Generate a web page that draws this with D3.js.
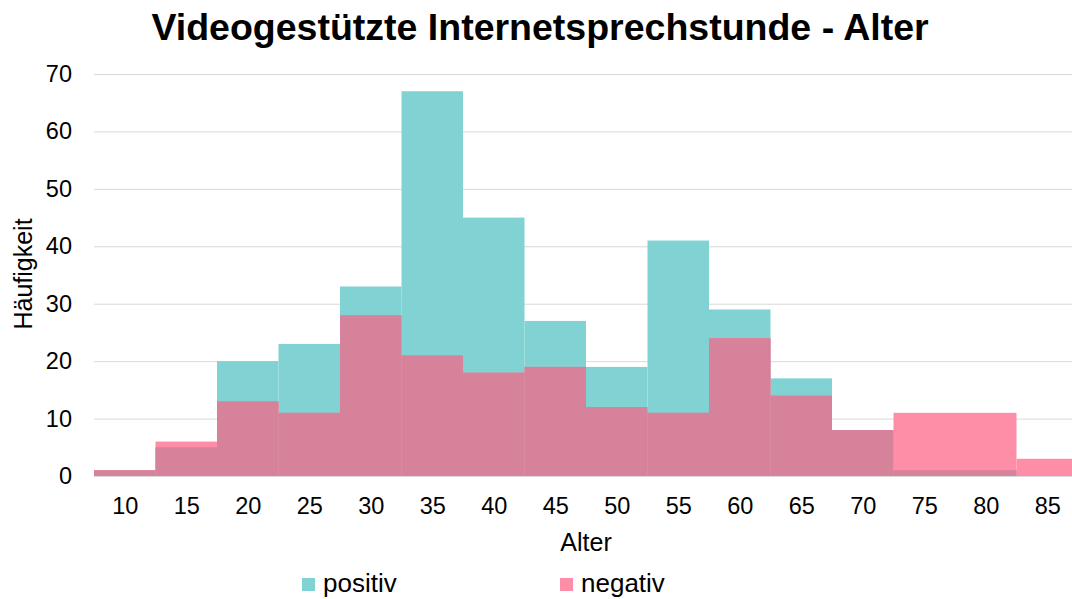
<!DOCTYPE html>
<html>
<head>
<meta charset="utf-8">
<script src="https://cdn.jsdelivr.net/npm/d3@7"></script>
<style>
  body { margin: 0; background: #fff; }
  svg { font-family: "Liberation Sans", Arial, sans-serif; }
</style>
</head>
<body>
<div id="chart"></div>
<script>
// bin centres (Alter), each bin 5 years wide
var ages = [10, 15, 20, 25, 30, 35, 40, 45, 50, 55, 60, 65, 70, 75, 80, 85];
var positiv = [1, 5, 20, 23, 33, 67, 45, 27, 19, 41, 29, 17, 8, 1, 1, 0];
var negativ = [1, 6, 13, 11, 28, 21, 18, 19, 12, 11, 24, 14, 8, 11, 11, 3];
var yTicks = [0, 10, 20, 30, 40, 50, 60, 70];
var binWidth = 5;

var svgWidth = 1072;
var svgHeight = 599;

var margin = { top: 74, right: -6, bottom: 123, left: 94 };
var chart_width = svgWidth - margin.left - margin.right;
var chart_height = svgHeight - margin.top - margin.bottom;

var svg = d3.select("#chart")
    .append("svg")
    .attr("width", svgWidth)
    .attr("height", svgHeight);

// title
svg.append("text")
    .attr("x", 540)
    .attr("y", 40)
    .attr("text-anchor", "middle")
    .attr("font-size", 37.5)
    .attr("font-weight", "bold")
    .text("Videogestützte Internetsprechstunde - Alter");

var chartGroup = svg.append("g")
    .attr("transform", `translate(${margin.left}, ${margin.top})`);

var xScale = d3.scaleLinear()
    .domain([ages[0] - binWidth / 2, ages[ages.length - 1] + binWidth / 2])
    .range([0, chart_width]);

var yScale = d3.scaleLinear()
    .domain([0, 70])
    .range([chart_height, 0]);

// gridlines + y labels
var leftAxis = d3.axisLeft(yScale)
    .tickValues(yTicks)
    .tickSize(-chart_width)
    .tickPadding(22);

var yAxisG = chartGroup.append("g").call(leftAxis);
yAxisG.select(".domain").remove();
yAxisG.selectAll("line").attr("stroke", "#d9d9d9").attr("stroke-width", 1);
yAxisG.selectAll("text").attr("font-size", 23.5).attr("fill", "#000")
    .attr("font-family", "Liberation Sans, Arial, sans-serif");

// bars
var colPos = "#81d3d3";
var colNeg = "#fe8ea8";
var colBoth = "#d6829a";

var rows = ages.map(function(a, i) {
    return { age: a, pos: positiv[i], neg: negativ[i], both: Math.min(positiv[i], negativ[i]) };
});

function drawBars(key, color) {
    chartGroup.append("g")
        .selectAll("rect")
        .data(rows)
        .enter()
        .append("rect")
        .attr("x", d => xScale(d.age - binWidth / 2))
        .attr("width", d => xScale(d.age + binWidth / 2) - xScale(d.age - binWidth / 2))
        .attr("y", d => yScale(d[key]))
        .attr("height", d => yScale(0) - yScale(d[key]))
        .attr("fill", color);
}
drawBars("pos", colPos);
drawBars("neg", colNeg);
drawBars("both", colBoth);

// x labels
var bottomAxis = d3.axisBottom(xScale)
    .tickValues(ages)
    .tickSize(0)
    .tickPadding(21);

var xAxisG = chartGroup.append("g")
    .attr("transform", `translate(0, ${chart_height})`)
    .call(bottomAxis);
xAxisG.select(".domain").remove();
xAxisG.selectAll("text").attr("font-size", 23.5).attr("fill", "#000")
    .attr("font-family", "Liberation Sans, Arial, sans-serif");

// axis titles
svg.append("text")
    .attr("x", 586)
    .attr("y", 551)
    .attr("text-anchor", "middle")
    .attr("font-size", 25)
    .text("Alter");

svg.append("text")
    .attr("transform", "translate(32, 274) rotate(-90)")
    .attr("text-anchor", "middle")
    .attr("font-size", 25)
    .text("Häufigkeit");

// legend
var legend = [
    { name: "positiv", color: colPos, x: 302 },
    { name: "negativ", color: colNeg, x: 560 }
];
var legendG = svg.append("g");
legendG.selectAll("rect")
    .data(legend)
    .enter()
    .append("rect")
    .attr("x", d => d.x)
    .attr("y", 578)
    .attr("width", 13)
    .attr("height", 13)
    .attr("fill", d => d.color);
legendG.selectAll("text")
    .data(legend)
    .enter()
    .append("text")
    .attr("x", d => d.x + 21)
    .attr("y", 592)
    .attr("font-size", 26)
    .text(d => d.name);
</script>
</body>
</html>
